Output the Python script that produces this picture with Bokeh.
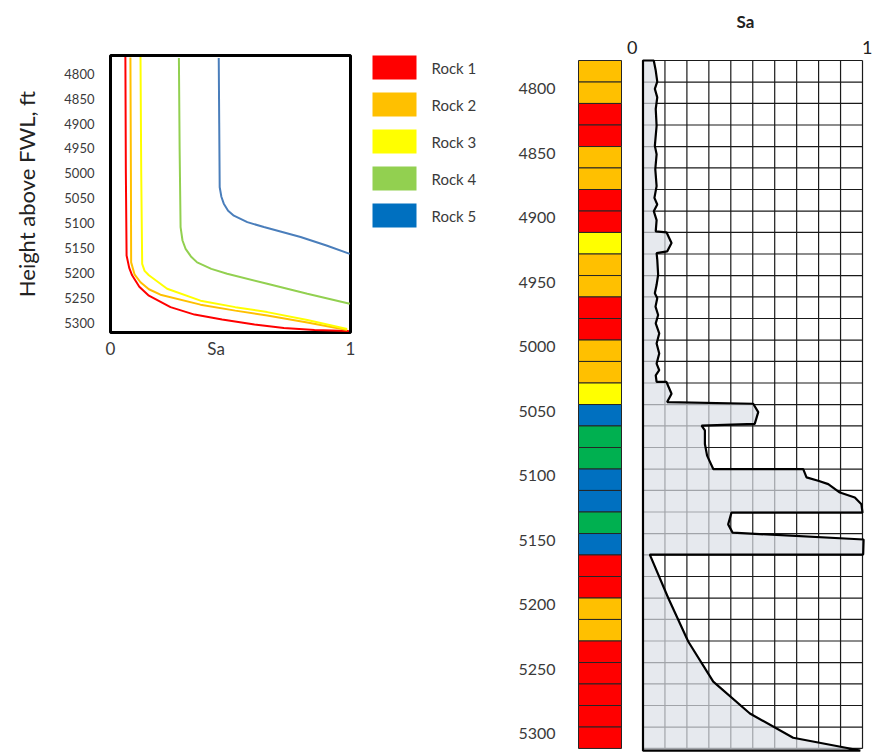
from bokeh.plotting import figure
from bokeh.layouts import row
from bokeh.models import Range1d, FixedTicker
from bokeh.core.properties import value
from bokeh.embed import file_html
from bokeh.resources import INLINE

FONT = "Lato"
TXT = "#3a3a3a"

# ---------------- data ----------------
rock_names = ["Rock 1", "Rock 2", "Rock 3", "Rock 4", "Rock 5"]
curve_colors = ["#FF0000", "#FFC000", "#FFFF00", "#92D050", "#4A7EBB"]
legend_colors = ["#FF0000", "#FFC000", "#FFFF00", "#92D050", "#0070C0"]
column_colors = ["#FF0000", "#FFC000", "#FFFF00", "#00B050", "#0070C0"]

# capillary-pressure style curves: Sa vs height above FWL
rock1_sa = [0.062, 0.064, 0.067, 0.078, 0.090, 0.120, 0.160, 0.250, 0.350, 0.465, 0.600, 0.722, 0.850, 0.993]
rock1_h = [4766, 5000, 5165, 5190, 5205, 5228, 5246, 5269, 5284, 5294, 5304, 5311, 5315, 5317]
rock2_sa = [0.083, 0.085, 0.086, 0.100, 0.125, 0.160, 0.208, 0.375, 0.520, 0.653, 0.820, 0.986]
rock2_h = [4767, 5000, 5179, 5203, 5219, 5233, 5244, 5264, 5276, 5286, 5300, 5315]
rock3_sa = [0.125, 0.128, 0.132, 0.142, 0.160, 0.236, 0.375, 0.520, 0.653, 0.820, 0.986]
rock3_h = [4766, 5000, 5182, 5196, 5205, 5232, 5256, 5269, 5279, 5295, 5313]
rock4_sa = [0.285, 0.288, 0.292, 0.300, 0.313, 0.335, 0.361, 0.420, 0.486, 0.653, 0.820, 0.997]
rock4_h = [4768, 4950, 5108, 5135, 5152, 5167, 5179, 5192, 5202, 5222, 5242, 5262]
rock5_sa = [0.451, 0.453, 0.455, 0.462, 0.472, 0.490, 0.514, 0.570, 0.639, 0.792, 0.900, 0.997]
rock5_h = [4768, 4900, 5028, 5047, 5061, 5075, 5085, 5098, 5108, 5128, 5145, 5162]

depth_ticks = [4800, 4850, 4900, 4950, 5000, 5050, 5100, 5150, 5200, 5250, 5300]

# rock-type log: layer tops and rock number per layer
layer_top = [4778.0, 4794.7, 4811.3, 4828.0, 4844.7, 4861.3, 4878.0, 4894.7,
             4911.3, 4928.0, 4944.7, 4961.3, 4978.0, 4994.7, 5011.3, 5028.0,
             5044.7, 5061.3, 5078.0, 5094.7, 5111.3, 5128.0, 5144.7, 5161.3,
             5178.0, 5194.7, 5211.3, 5228.0, 5244.7, 5261.3, 5278.0, 5294.7]
layer_base = 5311.3
layer_rock = [2, 2, 1, 1, 2, 2, 1, 1, 3, 2, 2, 1, 1, 2, 2, 3,
              5, 4, 4, 5, 5, 4, 5, 1, 1, 2, 2, 1, 1, 1, 1, 1]

# Sa log curve
log_sa = [0.049, 0.058, 0.065, 0.054, 0.065, 0.058, 0.062, 0.054, 0.062, 0.056,
          0.062, 0.052, 0.065, 0.049, 0.062, 0.058, 0.107, 0.130, 0.110, 0.062,
          0.065, 0.069, 0.062, 0.054, 0.065, 0.057, 0.069, 0.058, 0.074, 0.062,
          0.074, 0.062, 0.074, 0.058, 0.062, 0.107, 0.130, 0.110, 0.502, 0.525,
          0.509, 0.267, 0.282, 0.282, 0.292, 0.320, 0.730, 0.745, 0.798, 0.844,
          0.897, 0.965, 0.995, 1.000, 0.403, 0.388, 0.408, 1.005, 1.003, 0.031,
          0.115, 0.206, 0.320, 0.487, 0.684, 0.942, 0.990]
log_depth = [4778.0, 4785.8, 4794.4, 4800.0, 4806.6, 4815.6, 4828.6, 4844.2, 4850.7, 4862.3,
             4875.4, 4884.5, 4889.6, 4894.8, 4901.8, 4910.4, 4911.2, 4919.5, 4926.0, 4927.3,
             4932.4, 4944.1, 4951.9, 4958.4, 4962.3, 4968.8, 4975.3, 4981.8, 4989.6, 4997.4,
             5005.2, 5013.0, 5018.1, 5022.0, 5027.2, 5027.2, 5036.3, 5042.8, 5044.1, 5050.6,
             5059.7, 5061.0, 5064.8, 5075.3, 5084.3, 5094.7, 5094.7, 5101.2, 5103.8, 5106.4,
             5112.9, 5116.8, 5122.0, 5128.5, 5128.5, 5137.6, 5144.0, 5149.3, 5161.0, 5161.0,
             5194.7, 5228.4, 5259.5, 5284.2, 5303.0, 5311.3, 5313.0]


def clean_axis(ax, size, standoff):
    ax.axis_line_color = None
    ax.major_tick_line_color = None
    ax.minor_tick_line_color = None
    ax.major_tick_out = 0
    ax.major_tick_in = 0
    ax.minor_tick_out = 0
    ax.major_label_text_font = FONT
    ax.major_label_text_font_size = size
    ax.major_label_text_color = TXT
    ax.major_label_standoff = standoff


# ---------------- left chart ----------------
pA = figure(width=360, height=372, x_range=Range1d(0, 1), y_range=Range1d(5320, 4763),
            min_border_left=110, min_border_right=10, min_border_top=55, min_border_bottom=40,
            frame_align=False, output_backend="svg", toolbar_location=None)
pA.outline_line_color = "black"
pA.outline_line_width = 3
pA.outline_line_alpha = 1
pA.grid.visible = False

ya = pA.yaxis[0]
ya.ticker = FixedTicker(ticks=depth_ticks)
clean_axis(ya, "13px", 16)
ya.axis_label = "Height above FWL, ft"
ya.axis_label_text_font = FONT
ya.axis_label_text_font_size = "22px"
ya.axis_label_text_font_style = "normal"
ya.axis_label_text_color = "#222222"
ya.axis_label_standoff = 21

xa = pA.xaxis[0]
xa.ticker = FixedTicker(ticks=[0, 0.44, 1])
xa.major_label_overrides = {0: "0", 0.44: "Sa", 1: "1"}
clean_axis(xa, "17px", 5)

curves = [(rock1_sa, rock1_h), (rock2_sa, rock2_h), (rock3_sa, rock3_h),
          (rock4_sa, rock4_h), (rock5_sa, rock5_h)]
for (sa, h), c in zip(curves, curve_colors):
    pA.line(sa, h, line_color=c, line_width=2)

# ---------------- legend ----------------
pL = figure(width=140, height=250, x_range=Range1d(0, 140), y_range=Range1d(250, 0),
            x_axis_location=None, y_axis_location=None, min_border=0,
            frame_align=False, output_backend="svg", toolbar_location=None)
pL.outline_line_color = None
pL.grid.visible = False
sw_top = [55 + i * 37 for i in range(len(rock_names))]
pL.quad(left=12, right=56, top=sw_top, bottom=[t + 24 for t in sw_top],
        fill_color=legend_colors, line_color=None)
pL.text(x=71, y=[t + 12 for t in sw_top], text=rock_names, text_font=value(FONT),
        text_font_size="15px", text_color=TXT, text_baseline="middle", text_align="left")

# ---------------- right log panel ----------------
PX_PER_FT = 1.29
D_TOP = layer_top[0]
pR = figure(width=377, height=752, x_range=Range1d(-0.3075, 1.0683),
            y_range=Range1d(D_TOP + 692 / PX_PER_FT, D_TOP - 60 / PX_PER_FT),
            x_axis_location=None,
            min_border_left=75, min_border_right=0, min_border_top=0, min_border_bottom=0,
            frame_align=False, output_backend="svg", toolbar_location=None)
pR.outline_line_color = None
pR.grid.visible = False
yr = pR.yaxis[0]
yr.ticker = FixedTicker(ticks=depth_ticks)
clean_axis(yr, "16px", 20)

bounds = layer_top + [layer_base]
vx = [i / 10 for i in range(11)]
pR.segment(x0=vx, y0=D_TOP, x1=vx, y1=layer_base, line_color="#1a1a1a", line_width=1.2)
pR.segment(x0=0, y0=bounds, x1=1, y1=bounds, line_color="#1a1a1a", line_width=1.2)

pR.patch([0] + log_sa + [0], [D_TOP] + log_depth + [log_depth[-1]],
         fill_color="#DBE0E7", fill_alpha=0.7, line_color="black", line_width=2.2)

ROCK_L, ROCK_R = -0.2938, -0.0979
pR.quad(left=ROCK_L, right=ROCK_R, top=layer_top, bottom=layer_top[1:] + [layer_base],
        fill_color=[column_colors[r - 1] for r in layer_rock], line_color="#262626", line_width=1)

pR.text(x=[-0.049, 1.022], y=D_TOP - 13.3 / PX_PER_FT, text=["0", "1"], text_font=value(FONT),
        text_font_size="18px", text_color="#222222", text_align="center", text_baseline="middle")
pR.text(x=[0.467], y=[D_TOP - 39 / PX_PER_FT], text=["Sa"], text_font=value(FONT),
        text_font_size="17px", text_font_style="bold", text_color="#222222",
        text_align="center", text_baseline="middle")

layout = row(pA, pL, pR)
open("out.html", "w").write(file_html(layout, INLINE))
